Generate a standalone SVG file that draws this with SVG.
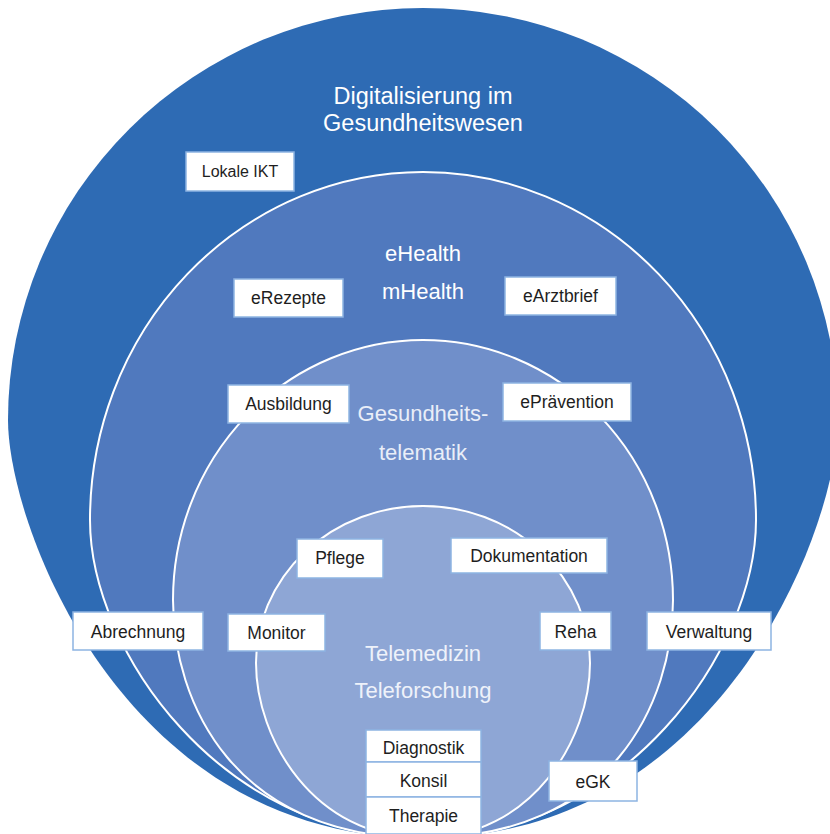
<svg xmlns="http://www.w3.org/2000/svg" width="830" height="834" viewBox="0 0 830 834">
<style>
.ring{stroke:#ffffff;stroke-width:2}
.box rect{fill:#ffffff;stroke:#8DB4E2;stroke-width:1.5}
.box text{font-family:"Liberation Sans",Arial,sans-serif;font-size:17.5px;fill:#1e1e1e;text-anchor:middle}
.lbl{font-family:"Liberation Sans",Arial,sans-serif;font-size:22px;text-anchor:middle}
</style>
<rect width="830" height="834" fill="#ffffff"/>
<g id="ring-digitalisierung">
<path d="M8,420 A415,412 0 0 1 838,420 C838,525 723,838 423,838 C123,838 8,525 8,420 Z" fill="#2E6BB4" stroke="none"/>
<text class="lbl" x="423" y="104" fill="#ffffff" style="font-size:23.5px">Digitalisierung im</text>
<text class="lbl" x="423" y="131" fill="#ffffff" style="font-size:23.5px">Gesundheitswesen</text>
</g>
<g id="ring-ehealth">
<path class="ring" d="M90,520 A333,348 0 0 1 756,520 C756,650 625,838 423,838 C221,838 90,650 90,520 Z" fill="#5079BE"/>
<text class="lbl" x="423" y="261" fill="#ffffff">eHealth</text>
<text class="lbl" x="423" y="299" fill="#ffffff">mHealth</text>
</g>
<g id="ring-telematik">
<path class="ring" d="M173,600 A250,260 0 0 1 673,600 C673,702 612,838 423,838 C234,838 173,702 173,600 Z" fill="#708FCA"/>
<text class="lbl" x="423" y="421" fill="#E9EEF8">Gesundheits-</text>
<text class="lbl" x="423" y="460" fill="#E9EEF8">telematik</text>
</g>
<g id="ring-telemedizin">
<path class="ring" d="M256,663 A167,157 0 0 1 590,663 C590,738 533,838 423,838 C313,838 256,738 256,663 Z" fill="#8EA6D5"/>
<text class="lbl" x="423" y="661" fill="#EEF2FA">Telemedizin</text>
<text class="lbl" x="423" y="698" fill="#EEF2FA">Teleforschung</text>
</g>
<g id="connectors"/>
<g id="lokale-ikt" class="box"><rect x="186" y="152" width="108" height="39"/><text x="240" y="177" style="font-size:16px">Lokale IKT</text></g>
<g id="erezepte" class="box"><rect x="234" y="279" width="109" height="38"/><text x="288.5" y="304">eRezepte</text></g>
<g id="earztbrief" class="box"><rect x="505" y="277" width="111" height="38"/><text x="560.5" y="302">eArztbrief</text></g>
<g id="ausbildung" class="box"><rect x="228" y="385" width="121" height="38"/><text x="288.5" y="410">Ausbildung</text></g>
<g id="epraevention" class="box"><rect x="503" y="383" width="128" height="38"/><text x="567" y="408">ePrävention</text></g>
<g id="pflege" class="box"><rect x="297" y="539" width="86" height="39"/><text x="340" y="564">Pflege</text></g>
<g id="dokumentation" class="box"><rect x="451" y="538" width="156" height="35"/><text x="529" y="562">Dokumentation</text></g>
<g id="abrechnung" class="box"><rect x="73" y="612" width="130" height="38"/><text x="138" y="638">Abrechnung</text></g>
<g id="monitor" class="box"><rect x="228" y="614" width="97" height="37"/><text x="276.5" y="639">Monitor</text></g>
<g id="reha" class="box"><rect x="540" y="612" width="71" height="38"/><text x="575.5" y="638">Reha</text></g>
<g id="verwaltung" class="box"><rect x="647" y="612" width="124" height="38"/><text x="709" y="638">Verwaltung</text></g>
<g id="diagnostik" class="box"><rect x="366" y="730" width="115" height="32"/><text x="423.5" y="754">Diagnostik</text></g>
<g id="konsil" class="box"><rect x="366" y="762" width="115" height="35"/><text x="423.5" y="787">Konsil</text></g>
<g id="therapie" class="box"><rect x="366" y="797" width="115" height="37"/><text x="423.5" y="822">Therapie</text></g>
<g id="egk" class="box"><rect x="549" y="761" width="88" height="40"/><text x="593" y="788">eGK</text></g>
</svg>
